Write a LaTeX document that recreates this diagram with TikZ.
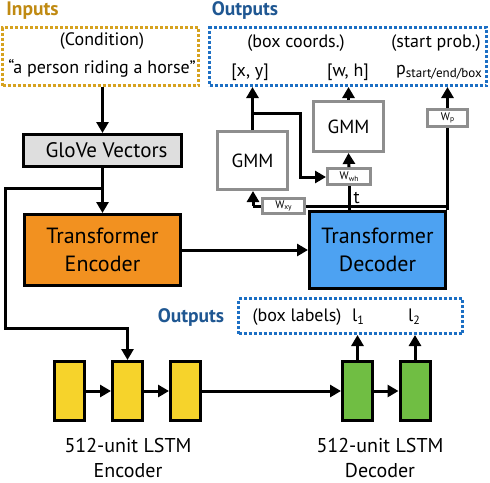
\documentclass[tikz,border=0pt]{standalone}
\usepackage{fontspec}
\setmainfont{PT Sans}
\usetikzlibrary{arrows.meta}
\definecolor{inputgold}{HTML}{C08A12}
\definecolor{inputdot}{HTML}{D6A21F}
\definecolor{outblue}{HTML}{1F5792}
\definecolor{outdot}{HTML}{1C6FC4}
\definecolor{encorange}{HTML}{F29120}
\definecolor{decblue}{HTML}{4DA2F2}
\definecolor{lstmyellow}{HTML}{F6D32B}
\definecolor{lstmgreen}{HTML}{70BE43}
\definecolor{gmmgray}{HTML}{8E8E8E}
\definecolor{glovegray}{HTML}{DEDEDE}
\newcommand{\lowsub}[2][12]{\raisebox{-0.3ex}{\fontsize{#1}{#1}\selectfont #2}}
\tikzset{
  blk/.style={draw=black, line width=3pt, inner sep=0pt},
  gmmbox/.style={draw=gmmgray, line width=3pt, fill=white, inner sep=0pt, font=\fontsize{19}{20}\selectfont},
  wbox/.style={draw=gmmgray, line width=2.8pt, fill=white, inner sep=0pt, font=\fontsize{11}{11}\selectfont},
  dotbox/.style={line width=3pt, dash pattern=on 3pt off 2pt, inner sep=0pt},
  cell/.style={blk, minimum width=30, minimum height=59},
  ln/.style={line width=3pt},
  arr/.style={line width=3pt, -{Triangle[length=11pt,width=12pt]}},
  head/.style={font=\fontsize{19.5}{20}\selectfont\bfseries},
  txt/.style={font=\fontsize{18}{20}\selectfont},
  big/.style={font=\fontsize{22}{28}\selectfont, align=center},
  lstmlbl/.style={font=\fontsize{20}{25}\selectfont, align=center, inner sep=0pt},
}

\begin{document}
\begin{tikzpicture}[x=1pt, y=-1pt]
			%%%%% START %%%%%
			\useasboundingbox (0,0) rectangle (490,482);
			
			% inputs
			\node[head, text=inputgold] (inhead) at (32.5,11) {Inputs};
			\node[dotbox, draw=inputdot, minimum width=196, minimum height=58] (inbox) at (100.5,56.5) {};
			\node[txt] (cond) at (102,41) {(Condition)};
			\node[txt] (caption) at (102,68) {“a person riding a horse”};
			
			% outputs (top)
			\node[head, text=outblue] (outhead) at (245,10) {Outputs};
			\node[dotbox, draw=outdot, minimum width=277, minimum height=58] (outbox) at (348,56.5) {};
			\node[txt] (coordlbl) at (296,43) {(box coords.)};
			\node[txt] (problbl) at (436,43) {(start prob.)};
			\node[txt] (xy) at (250,72) {[x, y]};
			\node[txt] (wh) at (348,72) {[w, h]};
			\node[txt] (pout) at (439,72) {p\lowsub[13]{start/end/box}};
			
			% encoder side
			\node[blk, fill=glovegray, minimum width=158, minimum height=32, font=\fontsize{21}{22}\selectfont] (glove) at (102.5,150.5) {\hspace{8pt}GloVe Vectors};
			\node[blk, fill=encorange, minimum width=156, minimum height=71, big] (enc) at (102.5,250) {Transformer\\Encoder};
			\node[blk, fill=decblue, minimum width=136, minimum height=77, big] (dec) at (377.5,250) {Transformer\\Decoder};
			
			% mixture heads
			\node[gmmbox, minimum width=70, minimum height=58] (gmmxy) at (252.5,160.5) {GMM};
			\node[gmmbox, minimum width=70, minimum height=50] (gmmwh) at (348.5,126.5) {GMM};
			
			% lstm
			\node[cell, fill=lstmyellow] (ecell1) at (69.5,391) {};
			\node[cell, fill=lstmyellow] (ecell2) at (127.5,391) {};
			\node[cell, fill=lstmyellow] (ecell3) at (185.5,391) {};
			\node[cell, fill=lstmgreen] (dcell1) at (357.5,391) {};
			\node[cell, fill=lstmgreen] (dcell2) at (415,391) {};
			\node[lstmlbl] (enclbl) at (128,458) {512-unit LSTM\\Encoder};
			\node[lstmlbl] (declbl) at (380,458) {512-unit LSTM\\Decoder};
			
			% outputs (bottom)
			\node[head, text=outblue] (lowhead) at (191,317) {Outputs};
			\node[dotbox, draw=outdot, minimum width=224, minimum height=35] (lowbox) at (350.5,316) {};
			\node[txt] (labellbl) at (297,317) {(box labels)};
			\node[txt] (l1) at (358,317) {l\lowsub{1}};
			\node[txt] (l2) at (414,317) {l\lowsub{2}};
			
			% connectors
			\coordinate (loopl) at (5,188);
			\coordinate (loopb) at (5,328);
			\coordinate (tapl) at (253,206);
			\coordinate (tapr) at (447.5,206);
			\coordinate (xyturn) at (300,113);
			
			\draw[arr] (glove.north |- inbox.south) -- (glove.north);
			\draw[arr] (glove) -- (enc);
			\draw[arr] (glove.south |- loopl) -- (loopl) -- (loopb) -- (loopb -| ecell2) -- (ecell2.north);
			\draw[arr] (enc) -- (dec);
			
			\draw[arr] (ecell1) -- (ecell2);
			\draw[arr] (ecell2) -- (ecell3);
			\draw[arr] (ecell3) -- (dcell1);
			\draw[arr] (dcell1) -- (dcell2);
			\draw[arr] (dcell1.north) -- (dcell1.north |- lowbox.south);
			\draw[arr] (dcell2.north) -- (dcell2.north |- lowbox.south);
			
			\draw[ln] (tapr) -- (tapl);
			\draw[arr] (tapl) -- (tapl |- gmmxy.south);
			\draw[ln] (tapr) -- (tapr |- dec.north);
			\draw[ln] (tapr) -- (tapr |- xyturn);
			\draw[arr] (tapr |- xyturn) -- (tapr |- outbox.south);
			\draw[arr] (gmmxy.north) -- (gmmxy.north |- outbox.south);
			\draw[arr] (gmmxy.north |- xyturn) -- (xyturn) -- (xyturn |- 0,177) -- (326,177);
			\draw[arr] (gmmwh.north) -- (gmmwh.north |- outbox.south);
			
			% weight boxes sit on the lines
			\node[wbox, minimum width=43, minimum height=16] (wwh) at (349,176.5) {W\lowsub[7.5]{wh}};
			\node[wbox, minimum width=42, minimum height=15] (wxy) at (283.5,206) {W\lowsub[7.5]{xy}};
			\node[wbox, minimum width=40, minimum height=17] (wp) at (447.5,118) {W\lowsub[7.5]{p}};
			\draw[ln] (dec.north -| wwh) -- (wwh.south) node[midway, right, txt, inner sep=3pt] (tlbl) {t};
			\draw[arr] (wwh.north) -- (gmmwh.south);
			
			%%%%% END %%%%%
		\end{tikzpicture}
\end{document}
